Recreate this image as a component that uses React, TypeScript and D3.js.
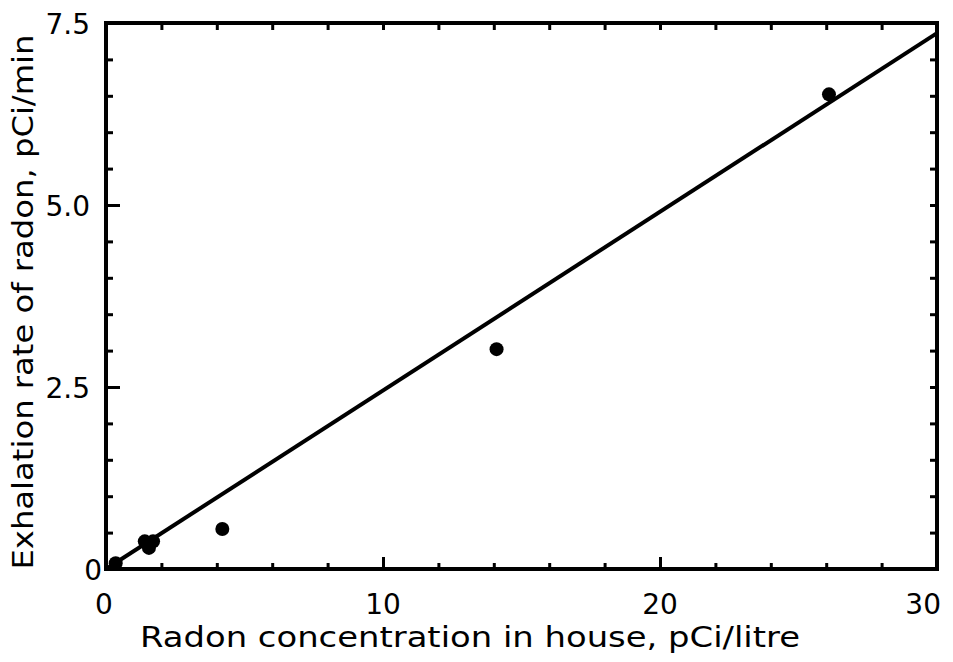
import React, { useEffect, useRef } from "react";
import * as d3 from "d3";

// Measured points (house radon vs exhalation rate)
const concentration = [0.35, 1.4, 1.55, 1.7, 4.2, 14.1, 26.1];
const exhalation = [0.08, 0.38, 0.29, 0.38, 0.55, 3.02, 6.52];

// Fitted line end points
const fitX = [0, 30];
const fitY = [0, 7.36];

const xMajor = [0, 10, 20, 30];
const yMajor = [0, 2.5, 5, 7.5];
const yTickLabels = ["0", "2.5", "5.0", "7.5"];

const App = () => {
  const svgRef = useRef<SVGSVGElement>(null);

  useEffect(() => {
    const width = 953;
    const height = 662;
    const left = 106;
    const right = 937;
    const top = 23;
    const bottom = 569;
    const font = "'DejaVu Sans', sans-serif";

    const svg = d3.select(svgRef.current)
      .attr("width", width)
      .attr("height", height)
      .attr("viewBox", `0 0 ${width} ${height}`);
    svg.selectAll("*").remove();

    const x = d3.scaleLinear().domain([0, 30]).range([left, right]);
    const y = d3.scaleLinear().domain([0, 7.5]).range([bottom, top]);

    const xMinor = d3.range(0, 31, 2);
    const yMinor = d3.range(0, 7.51, 0.5);

    // tick helper: draws axis ticks without domain path and labels
    const ticks = (axis: any, vals: number[], size: number, tx: number, ty: number) => {
      const g = svg.append("g")
        .attr("transform", `translate(${tx},${ty})`)
        .call(axis.tickValues(vals).tickSize(size).tickFormat(() => ""));
      g.select(".domain").remove();
      g.selectAll("line").attr("stroke", "#000").attr("stroke-width", 3);
    };

    // inward ticks on all four sides
    ticks(d3.axisBottom(x), xMinor, -6, 0, bottom);
    ticks(d3.axisBottom(x), xMajor, -12, 0, bottom);
    ticks(d3.axisTop(x), xMinor, -7, 0, top);
    ticks(d3.axisLeft(y), yMinor, -7, left, 0);
    ticks(d3.axisLeft(y), yMajor, -14, left, 0);
    ticks(d3.axisRight(y), yMinor, -7, right, 0);

    // frame
    svg.append("rect")
      .attr("x", left)
      .attr("y", top)
      .attr("width", right - left)
      .attr("height", bottom - top)
      .attr("fill", "none")
      .attr("stroke", "#000")
      .attr("stroke-width", 4);

    // fitted line
    const line = d3.line<number>()
      .x((d) => x(fitX[d]))
      .y((d) => y(fitY[d]));
    svg.append("path")
      .datum([0, 1])
      .attr("d", line)
      .attr("fill", "none")
      .attr("stroke", "#000")
      .attr("stroke-width", 4);

    // data points
    svg.append("g")
      .selectAll("circle")
      .data(concentration)
      .join("circle")
      .attr("cx", (d) => x(d))
      .attr("cy", (d, i) => y(exhalation[i]))
      .attr("r", 7)
      .attr("fill", "#000");

    // x tick labels
    svg.append("g")
      .selectAll("text")
      .data(xMajor)
      .join("text")
      .attr("x", (d) => (d === 30 ? x(d) + 4 : x(d) - (d === 0 ? 2 : 0)))
      .attr("y", bottom + 45)
      .attr("text-anchor", (d) => (d === 30 ? "end" : "middle"))
      .attr("font-family", font)
      .attr("font-size", 28)
      .text((d) => String(d));

    // y tick labels
    svg.append("g")
      .selectAll("text")
      .data(yMajor)
      .join("text")
      .attr("x", (d) => (d === 0 ? left - 4 : left - 16))
      .attr("y", (d) => y(d) + 11)
      .attr("text-anchor", "end")
      .attr("font-family", font)
      .attr("font-size", 28)
      .text((d, i) => yTickLabels[i]);

    // axis titles
    svg.append("text")
      .attr("x", 470)
      .attr("y", 647)
      .attr("text-anchor", "middle")
      .attr("font-family", font)
      .attr("font-size", 28)
      .attr("textLength", 660)
      .attr("lengthAdjust", "spacingAndGlyphs")
      .text("Radon concentration in house, pCi/litre");

    svg.append("text")
      .attr("transform", `translate(33,302) rotate(-90)`)
      .attr("text-anchor", "middle")
      .attr("font-family", font)
      .attr("font-size", 28)
      .attr("textLength", 535)
      .attr("lengthAdjust", "spacingAndGlyphs")
      .text("Exhalation rate of radon, pCi/min");
  }, []);

  return (
    <svg
      ref={svgRef}
      style={{ position: "absolute", left: 0, top: 0, background: "#fff" }}
    ></svg>
  );
};

export default App;
